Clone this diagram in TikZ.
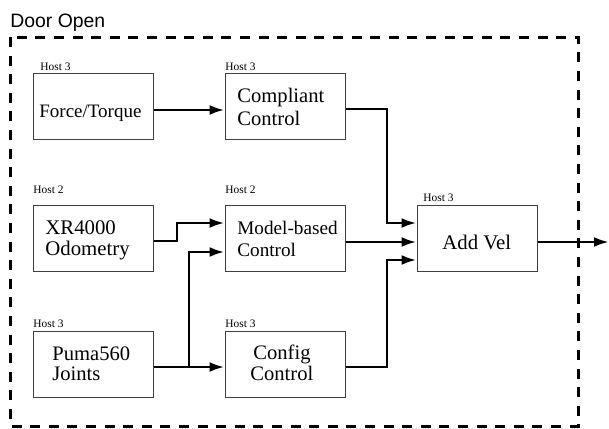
\documentclass[tikz,border=0pt]{standalone}
\usepackage{fontspec}
\setmainfont{Liberation Serif}
\newfontfamily\titlefont{Liberation Sans}
\usetikzlibrary{arrows.meta,calc}
\begin{document}
\begin{tikzpicture}[x=0.5pt,y=-0.5pt,
  blk/.style={draw=black!75,line width=0.5pt,rectangle,minimum width=60pt,minimum height=33pt,inner sep=0pt},
  host/.style={anchor=base west,inner sep=0pt,font=\fontsize{5.7}{6.5}\selectfont},
  txt/.style={anchor=base west,inner sep=0pt,align=left},
  conn/.style={line width=1.4pt,-{Latex[length=7.5pt,width=5pt]}},
  frame/.style={line width=1.5pt,dash pattern=on 5pt off 4.3pt}]
\useasboundingbox (0,0) rectangle (609,428);
% frame
\draw[frame] (10,37) rectangle (578,426);
\node[anchor=base west,inner sep=0pt,font=\titlefont\fontsize{9.7}{12}\selectfont] (title) at (10,27) {Door Open};
% boxes
\node[blk] (F) at (93,106) {};
\node[blk] (C) at (285,106) {};
\node[blk] (X) at (93,238.5) {};
\node[blk] (M) at (285,238.5) {};
\node[blk] (P) at (93,364.5) {};
\node[blk] (G) at (285,364.5) {};
\node[blk] (A) at (477,238.5) {};
% host labels
\node[host] (hF) at (40,70) {Host 3};
\node[host] (hC) at (225,70) {Host 3};
\node[host] (hX) at (33,193) {Host 2};
\node[host] (hM) at (225,193) {Host 2};
\node[host] (hA) at (423,201) {Host 3};
\node[host] (hP) at (33,327) {Host 3};
\node[host] (hG) at (225,327) {Host 3};
% texts (base = last line's baseline)
\node[txt,font=\fontsize{9.5}{11}\selectfont] (tF) at (39,117) {Force/Torque};
\node[txt,font=\fontsize{10.3}{11.5}\selectfont] (tC) at (237,125) {Compliant\\Control};
\node[txt,font=\fontsize{10.4}{10.4}\selectfont] (tX) at (45,255.5) {XR4000\\Odometry};
\node[txt,font=\fontsize{9.6}{11}\selectfont] (tM) at (237,256) {Model-based\\Control};
\node[txt,font=\fontsize{10.3}{10}\selectfont] (tP) at (52,380) {Puma560\\Joints};
\node[txt,font=\fontsize{10.3}{10.5}\selectfont] (tG) at (250,380) {\hspace{1.5pt}Config\\Control};
\node[txt,font=\fontsize{10.4}{12}\selectfont] (tA) at (442,249) {Add Vel};
% junctions
\coordinate (jP) at (189,367);
\coordinate (out) at (609,242);
% connectors
\draw[conn] ([yshift=-2pt]F.east) -- ([yshift=-2pt]C.west);
\draw[conn] ([yshift=-1.5pt]C.east) -| (387,223) -- ([yshift=7.75pt]A.west);
\draw[conn] ([yshift=-1.75pt]M.east) -- ([yshift=-1.75pt]A.west);
\draw[conn] ([yshift=-1.25pt]G.east) -| (387,260) -- ([yshift=-10.75pt]A.west);
\draw[conn] ([yshift=-1.25pt]X.east) -| (177,223) -- ([yshift=7.75pt]M.west);
\draw[conn] ([yshift=-1.25pt]P.east) -- ([yshift=-1.25pt]G.west);
\draw[conn] (jP) |- ([yshift=-6.75pt]M.west);
\draw[conn] ([yshift=-1.75pt]A.east) -- (out);
\end{tikzpicture}
\end{document}
